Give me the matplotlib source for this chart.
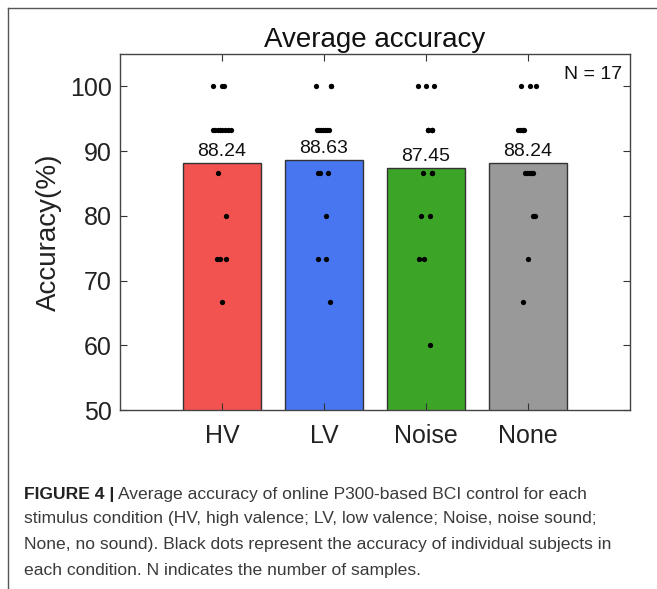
import numpy as np
import matplotlib

matplotlib.use('Agg')
import matplotlib.pyplot as plt
from matplotlib.lines import Line2D

plt.rcParams['font.family'] = ['Liberation Sans', 'DejaVu Sans']

conditions = ['HV', 'LV', 'Noise', 'None']
bar_colors = ['#F35350', '#4876F0', '#3CA528', '#999999']

# per-subject accuracy (%), 15 trials per run
hv_acc = [100, 100, 100,
          93.33, 93.33, 93.33, 93.33, 93.33, 93.33, 93.33, 93.33,
          86.67, 80, 73.33, 73.33, 73.33, 66.67]
lv_acc = [100, 100, 100,
          93.33, 93.33, 93.33, 93.33, 93.33, 93.33, 93.33,
          86.67, 86.67, 86.67, 80, 73.33, 73.33, 66.67]
noise_acc = [100, 100, 100,
             93.33, 93.33, 93.33, 93.33, 93.33, 93.33,
             86.67, 86.67, 86.67, 80, 80, 73.33, 73.33, 60]
none_acc = [100, 100, 100,
            93.33, 93.33, 93.33, 93.33, 93.33,
            86.67, 86.67, 86.67, 86.67, 86.67, 80, 80, 73.33, 66.67]

# horizontal scatter of the subject dots around each bar centre
hv_jit = [-0.09, 0.0, 0.02,
          -0.09, -0.07, -0.04, -0.02, 0.0, 0.03, 0.06, 0.09,
          -0.04, 0.04, -0.05, -0.02, 0.04, 0.0]
lv_jit = [-0.08, 0.07, 0.07,
          -0.07, -0.05, -0.03, -0.01, 0.01, 0.03, 0.05,
          -0.06, -0.04, 0.04, 0.02, -0.06, 0.02, 0.06]
noise_jit = [-0.08, 0.0, 0.08,
             0.02, 0.02, 0.06, 0.06, 0.02, 0.06,
             -0.03, 0.06, 0.06, -0.05, 0.04, -0.07, -0.02, 0.04]
none_jit = [-0.07, 0.02, 0.08,
            -0.1, -0.08, -0.06, -0.05, -0.04,
            -0.03, -0.01, 0.01, 0.03, 0.05, 0.05, 0.07, 0.0, -0.05]

scores = [hv_acc, lv_acc, noise_acc, none_acc]
jitters = [hv_jit, lv_jit, noise_jit, none_jit]
n_subjects = len(hv_acc)

# exact k/15 values
scores = [np.round(np.array(s) * 15 / 100) / 15 * 100 for s in scores]
means = [s.mean() for s in scores]

fig = plt.figure(figsize=(6.57, 5.89), dpi=100)
ax = fig.add_axes([120 / 657, 1 - 410 / 589, 510 / 657, 356 / 589])

x = np.arange(1, len(conditions) + 1)
ax.bar(x, means, width=0.76, color=bar_colors, edgecolor='#333333',
       linewidth=1.0, zorder=1)

for xi, s, j, m in zip(x, scores, jitters, means):
    ax.plot(xi + np.array(j), s, 'o', color='black', markersize=3.8,
            markeredgewidth=0, zorder=3)
    ax.text(xi, m + 0.4, '%.2f' % m, ha='center', va='bottom',
            fontsize=14, color='#111111', zorder=4)

ax.set_xlim(0, 5)
ax.set_ylim(50, 105)
ax.set_xticks(x)
ax.set_xticklabels(conditions)
ax.set_yticks(np.arange(50, 101, 10))
ax.tick_params(axis='both', direction='in', length=5, width=0.8,
               labelsize=18, colors='#333333', labelcolor='#222222',
               top=True, right=True, pad=6)
ax.tick_params(axis='x', pad=10)
for sp in ax.spines.values():
    sp.set_color('#444444')
    sp.set_linewidth(1.0)

ax.set_ylabel('Accuracy(%)', fontsize=20, color='#222222', labelpad=6)
ax.set_title('Average accuracy', fontsize=20, color='#111111', pad=5)
ax.text(0.985, 0.965, 'N = %d' % n_subjects, transform=ax.transAxes,
        ha='right', va='top', fontsize=14, color='#111111')

# panel frame
fig.add_artist(Line2D([8 / 657, 8 / 657], [1 - 8 / 589, 0.0],
                      transform=fig.transFigure, color='#555555', lw=1.0))
fig.add_artist(Line2D([8 / 657, 1.0], [1 - 8 / 589, 1 - 8 / 589],
                      transform=fig.transFigure, color='#555555', lw=1.0))

# caption
cap_color = '#3a3a3a'
cap_size = 12.6
lines = [
    'Average accuracy of online P300-based BCI control for each',
    'stimulus condition (HV, high valence; LV, low valence; Noise, noise sound;',
    'None, no sound). Black dots represent the accuracy of individual subjects in',
    'each condition. N indicates the number of samples.',
]
head = fig.text(24 / 657, 1 - 494 / 589, 'FIGURE 4 |', fontsize=cap_size,
                fontweight='bold', color='#222222', va='center')
fig.canvas.draw()
bb = head.get_window_extent()
fig.text((bb.x1 + 4) / 657, 1 - 494 / 589, lines[0], fontsize=cap_size,
         color=cap_color, va='center')
for i, ln in enumerate(lines[1:]):
    fig.text(24 / 657, 1 - (519 + 26 * i) / 589, ln, fontsize=cap_size,
             color=cap_color, va='center')

fig.savefig('out.png', dpi=100)
